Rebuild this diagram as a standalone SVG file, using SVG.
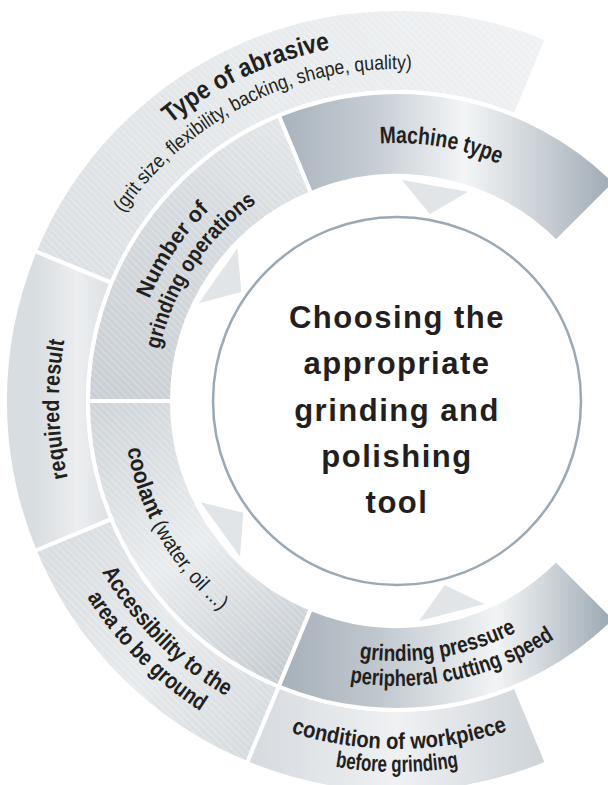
<svg xmlns="http://www.w3.org/2000/svg" width="608" height="785" viewBox="0 0 608 785">
<style>
.seg{stroke:#fff;stroke-width:4;stroke-linejoin:miter}
.hatch{fill:url(#hatch);stroke:none}
.lbl{font-family:'Liberation Sans',Arial,sans-serif;font-weight:bold;font-size:23px;fill:#231f20}
.reg{font-weight:normal}
.arrow{fill:#e1e5e8}
.title{font-family:'Liberation Sans',Arial,sans-serif;font-weight:bold;font-size:31px;fill:#231f20;text-anchor:middle;letter-spacing:1.5px}
</style>
<defs>
<pattern id="hatch" width="5" height="5" patternUnits="userSpaceOnUse" patternTransform="rotate(45)"><rect width="5" height="1" fill="#fff" fill-opacity="0.3"/></pattern>
<linearGradient id="gMach" gradientUnits="userSpaceOnUse" x1="280" y1="0" x2="615" y2="0">
<stop offset="0" stop-color="#a9b3bc"/><stop offset="0.3" stop-color="#c8cfd5"/><stop offset="0.55" stop-color="#f3f5f6"/><stop offset="0.8" stop-color="#c6cdd3"/><stop offset="1" stop-color="#9ea9b3"/>
</linearGradient>
<linearGradient id="gGrind" gradientUnits="userSpaceOnUse" x1="278" y1="0" x2="615" y2="0">
<stop offset="0" stop-color="#a6b0b9"/><stop offset="0.3" stop-color="#c0c8ce"/><stop offset="0.65" stop-color="#f2f4f5"/><stop offset="0.85" stop-color="#c2cad0"/><stop offset="1" stop-color="#97a4ae"/>
</linearGradient>
<linearGradient id="gType" gradientUnits="userSpaceOnUse" x1="35" y1="280" x2="547" y2="40">
<stop offset="0" stop-color="#dadfe3"/><stop offset="0.5" stop-color="#e7eaec"/><stop offset="1" stop-color="#eff1f3"/>
</linearGradient>
<linearGradient id="gReq" gradientUnits="userSpaceOnUse" x1="35" y1="0" x2="111" y2="0">
<stop offset="0" stop-color="#d8dde1"/><stop offset="0.55" stop-color="#eceef0"/><stop offset="1" stop-color="#dce1e4"/>
</linearGradient>
<linearGradient id="gNum" gradientUnits="userSpaceOnUse" x1="100" y1="400" x2="280" y2="115">
<stop offset="0" stop-color="#c9cfd4"/><stop offset="0.6" stop-color="#d5dade"/><stop offset="1" stop-color="#e3e6e9"/>
</linearGradient>
<linearGradient id="gCool" gradientUnits="userSpaceOnUse" x1="90" y1="400" x2="300" y2="690">
<stop offset="0" stop-color="#cdd3d7"/><stop offset="0.5" stop-color="#e9ecee"/><stop offset="1" stop-color="#c0c7cd"/>
</linearGradient>
<linearGradient id="gAcc" gradientUnits="userSpaceOnUse" x1="35" y1="550" x2="280" y2="760">
<stop offset="0" stop-color="#d7dce0"/><stop offset="0.5" stop-color="#e7eaec"/><stop offset="1" stop-color="#d2d8dc"/>
</linearGradient>
<linearGradient id="gCond" gradientUnits="userSpaceOnUse" x1="247" y1="0" x2="547" y2="0">
<stop offset="0" stop-color="#d5dadf"/><stop offset="0.5" stop-color="#eff1f3"/><stop offset="1" stop-color="#cdd3d8"/>
</linearGradient>
<path id="p-type" d="M87.0,222.0 A358,358 0 0 1 459.2,48.4"/>
<path id="p-sub" d="M92.5,268.6 A332,332 0 0 1 474.5,78.2"/>
<path id="p-mach" d="M307.9,158.9 A258,258 0 0 1 562.1,202.8"/>
<path id="p-num1" d="M130.0,383.0 A268,268 0 0 1 279.5,160.0"/>
<path id="p-num2" d="M155.6,428.6 A243,243 0 0 1 328.0,168.0"/>
<path id="p-req" d="M108.5,577.1 A338,338 0 0 1 100.2,239.2"/>
<path id="p-cool" d="M127.2,353.4 A274,274 0 0 0 303.3,658.5"/>
<path id="p-acc1" d="M57.3,430.7 A341,341 0 0 0 367.3,740.7"/>
<path id="p-acc2" d="M31.4,433.0 A367,367 0 0 0 365.0,766.6"/>
<path id="p-gp1" d="M265.0,625.0 A260,260 0 0 0 594.7,569.9"/>
<path id="p-gp2" d="M263.2,652.6 A285,285 0 0 0 621.6,576.5"/>
<path id="p-con1" d="M175.2,669.1 A348,348 0 0 0 622.5,666.0"/>
<path id="p-con2" d="M158.5,685.2 A371,371 0 0 0 635.5,685.2"/>
</defs>
<rect width="608" height="785" fill="#fff"/>

<g id="type-of-abrasive">
<path class="seg" fill="url(#gType)" d="M547.0,38.8 A392,392 0 0 0 34.8,251.0 L111.5,282.8 A309,309 0 0 1 515.2,115.5 Z"/>
<path class="hatch" d="M547.0,38.8 A392,392 0 0 0 34.8,251.0 L111.5,282.8 A309,309 0 0 1 515.2,115.5 Z"/>
<text class="lbl" style="font-size:26px"><textPath href="#p-type" startOffset="50%" text-anchor="middle" textLength="178" lengthAdjust="spacingAndGlyphs">Type of abrasive</textPath></text>
<text class="lbl reg" style="font-size:20px"><textPath href="#p-sub" startOffset="50%" text-anchor="middle" textLength="336" lengthAdjust="spacingAndGlyphs">(grit size, flexibility, backing, shape, quality)</textPath></text>
</g>

<g id="required-result">
<path class="seg" fill="url(#gReq)" d="M34.8,251.0 A392,392 0 0 0 34.8,551.0 L111.5,519.2 A309,309 0 0 1 111.5,282.8 Z"/>
<text class="lbl"><textPath href="#p-req" startOffset="50%" text-anchor="middle" textLength="138" lengthAdjust="spacingAndGlyphs">required result</textPath></text>
</g>

<g id="accessibility">
<path class="seg" fill="url(#gAcc)" d="M34.8,551.0 A392,392 0 0 0 247.0,763.2 L278.8,686.5 A309,309 0 0 1 111.5,519.2 Z"/>
<path class="hatch" d="M34.8,551.0 A392,392 0 0 0 247.0,763.2 L278.8,686.5 A309,309 0 0 1 111.5,519.2 Z"/>
<text class="lbl"><textPath href="#p-acc1" startOffset="50%" text-anchor="middle" textLength="178" lengthAdjust="spacingAndGlyphs">Accessibility to the</textPath></text>
<text class="lbl"><textPath href="#p-acc2" startOffset="50%" text-anchor="middle" textLength="162" lengthAdjust="spacingAndGlyphs">area to be ground</textPath></text>
</g>

<g id="condition-of-workpiece">
<path class="seg" fill="url(#gCond)" d="M247.0,763.2 A392,392 0 0 0 547.0,763.2 L515.2,686.5 A309,309 0 0 1 278.8,686.5 Z"/>
<text class="lbl"><textPath href="#p-con1" startOffset="50%" text-anchor="middle" textLength="220" lengthAdjust="spacingAndGlyphs">condition of workpiece</textPath></text>
<text class="lbl"><textPath href="#p-con2" startOffset="50%" text-anchor="middle" textLength="124" lengthAdjust="spacingAndGlyphs">before grinding</textPath></text>
</g>

<g id="machine-type">
<path class="seg" fill="url(#gMach)" d="M615.5,182.5 A309,309 0 0 0 278.8,115.5 L310.9,193.1 A225,225 0 0 1 556.1,241.9 Z"/>
<text class="lbl" style="font-size:24px"><textPath href="#p-mach" startOffset="50%" text-anchor="middle" textLength="122" lengthAdjust="spacingAndGlyphs">Machine type</textPath></text>
</g>

<g id="number-of-grinding-operations">
<path class="seg" fill="url(#gNum)" d="M278.8,115.5 A309,309 0 0 0 88,401 L172,401 A225,225 0 0 1 310.9,193.1 Z"/>
<path class="hatch" d="M278.8,115.5 A309,309 0 0 0 88,401 L172,401 A225,225 0 0 1 310.9,193.1 Z"/>
<text class="lbl" style="font-size:22px"><textPath href="#p-num1" startOffset="50%" text-anchor="middle" textLength="108" lengthAdjust="spacingAndGlyphs">Number of</textPath></text>
<text class="lbl" style="font-size:22px"><textPath href="#p-num2" startOffset="50%" text-anchor="middle" textLength="180" lengthAdjust="spacingAndGlyphs">grinding operations</textPath></text>
</g>

<g id="coolant">
<path class="seg" fill="url(#gCool)" d="M88,401 A309,309 0 0 0 278.8,686.5 L310.9,608.9 A225,225 0 0 1 172,401 Z"/>
<path class="hatch" d="M88,401 A309,309 0 0 0 278.8,686.5 L310.9,608.9 A225,225 0 0 1 172,401 Z"/>
<text class="lbl"><textPath href="#p-cool" startOffset="50%" text-anchor="middle" textLength="191" lengthAdjust="spacingAndGlyphs">coolant<tspan class="reg" style="font-size:21px"> (water, oil ...)</tspan></textPath></text>
</g>

<g id="grinding-pressure">
<path class="seg" fill="url(#gGrind)" d="M278.8,686.5 A309,309 0 0 0 615.5,619.5 L556.1,559.9 A225,225 0 0 1 310.9,608.9 Z"/>
<text class="lbl"><textPath href="#p-gp1" startOffset="50%" text-anchor="middle" textLength="162" lengthAdjust="spacingAndGlyphs">grinding pressure</textPath></text>
<text class="lbl"><textPath href="#p-gp2" startOffset="50%" text-anchor="middle" textLength="214" lengthAdjust="spacingAndGlyphs">peripheral cutting speed</textPath></text>
</g>

<g id="connectors">
<polygon class="arrow" points="401.8,180.1 468.0,191.7 430.0,213.9"/>
<polygon class="arrow" points="198.8,303.3 237.4,248.2 241.4,292.0"/>
<polygon class="arrow" points="200.5,502.2 240.0,556.6 243.3,512.7"/>
<polygon class="arrow" points="419.1,620.9 484.2,604.0 444.6,584.9"/>
</g>

<g id="center">
<circle cx="397" cy="401" r="184" fill="#fff" stroke="#9ba9b4" stroke-width="2.5"/>
<text class="title" x="397" y="328">Choosing the</text>
<text class="title" x="397" y="374">appropriate</text>
<text class="title" x="397" y="421">grinding and</text>
<text class="title" x="397" y="467">polishing</text>
<text class="title" x="397" y="513">tool</text>
</g>
</svg>
